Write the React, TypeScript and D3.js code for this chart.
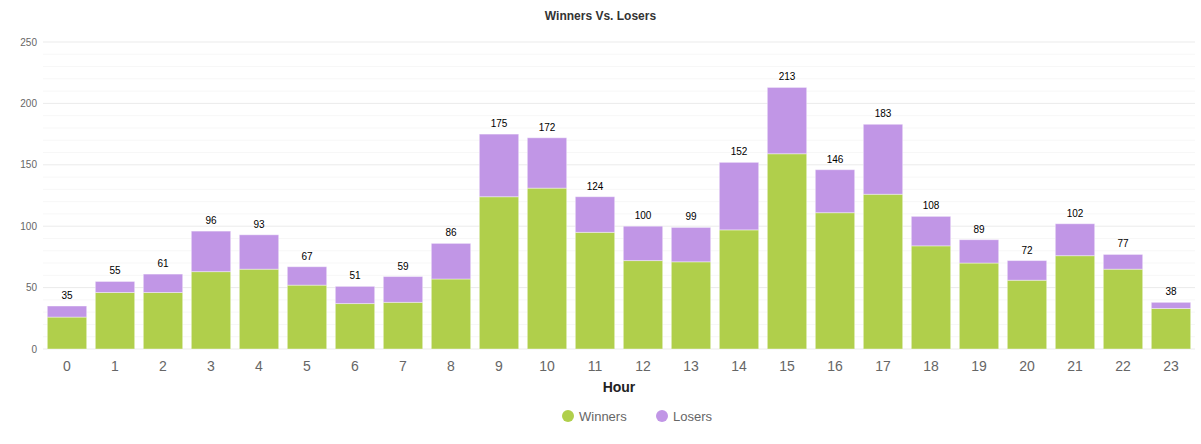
import React from 'react'
import * as d3 from 'd3'

const hours = ['0','1','2','3','4','5','6','7','8','9','10','11','12','13','14','15','16','17','18','19','20','21','22','23']
const winners = [26, 46, 46, 63, 65, 52, 37, 38, 57, 124, 131, 95, 72, 71, 97, 159, 111, 126, 84, 70, 56, 76, 65, 33]
const losers = [9, 9, 15, 33, 28, 15, 14, 21, 29, 51, 41, 29, 28, 28, 55, 54, 35, 57, 24, 19, 16, 26, 12, 5]
const yTicks = [0, 50, 100, 150, 200, 250]
const seriesNames = ['Winners', 'Losers']
const colors = ['#b0cf4b', '#c196e6']

const W = 1201
const H = 444
const margin = { top: 42, right: 6, bottom: 95, left: 43 }

export default function App() {
  const x = d3
    .scaleBand()
    .domain(hours)
    .range([margin.left, W - margin.right])
    .paddingInner(0.18)
    .paddingOuter(0.09)
  const y = d3.scaleLinear().domain([0, 250]).range([H - margin.bottom, margin.top])
  const minor = d3.range(0, 251, 10).filter((v) => v % 50 !== 0)
  const font = 'Arial, "Liberation Sans", sans-serif'

  return (
    <svg width={W} height={H} style={{ display: 'block', position: 'absolute', left: 0, top: 0 }} fontFamily={font}>
      <text x={W / 2} y={20} textAnchor="middle" fontSize={12} fontWeight="bold" fill="#333">
        Winners Vs. Losers
      </text>
      {minor.map((v) => (
        <line key={'m' + v} x1={margin.left} x2={W - margin.right} y1={y(v)} y2={y(v)} stroke="#f7f7f7" />
      ))}
      {yTicks.map((v) => (
        <g key={v}>
          <line x1={margin.left} x2={W - margin.right} y1={y(v)} y2={y(v)} stroke="#ebebeb" />
          <text x={37} y={y(v) + 3.5} textAnchor="end" fontSize={10} fill="#666">
            {v}
          </text>
        </g>
      ))}
      {hours.map((h, i) => {
        const bx = x(h) || 0
        const bw = x.bandwidth()
        const total = winners[i] + losers[i]
        return (
          <g key={h}>
            <rect x={bx} y={y(winners[i])} width={bw} height={y(0) - y(winners[i])} fill={colors[0]} stroke="#ffffff" strokeOpacity={0.4} />
            <rect x={bx} y={y(total)} width={bw} height={y(winners[i]) - y(total)} fill={colors[1]} stroke="#ffffff" strokeOpacity={0.4} />
            <text x={bx + bw / 2} y={y(total) - 7} textAnchor="middle" fontSize={10} fill="#000">
              {total}
            </text>
            <text x={bx + bw / 2} y={371} textAnchor="middle" fontSize={14} fill="#666">
              {h}
            </text>
          </g>
        )
      })}
      <text x={(margin.left + W - margin.right) / 2} y={392} textAnchor="middle" fontSize={14} fontWeight="bold" fill="#222">
        Hour
      </text>
      {seriesNames.map((n, i) => {
        const lx = i === 0 ? 568 : 662
        return (
          <g key={n}>
            <circle cx={lx} cy={416} r={6} fill={colors[i]} />
            <text x={lx + 11} y={421} fontSize={13} fill="#666">
              {n}
            </text>
          </g>
        )
      })}
    </svg>
  )
}
